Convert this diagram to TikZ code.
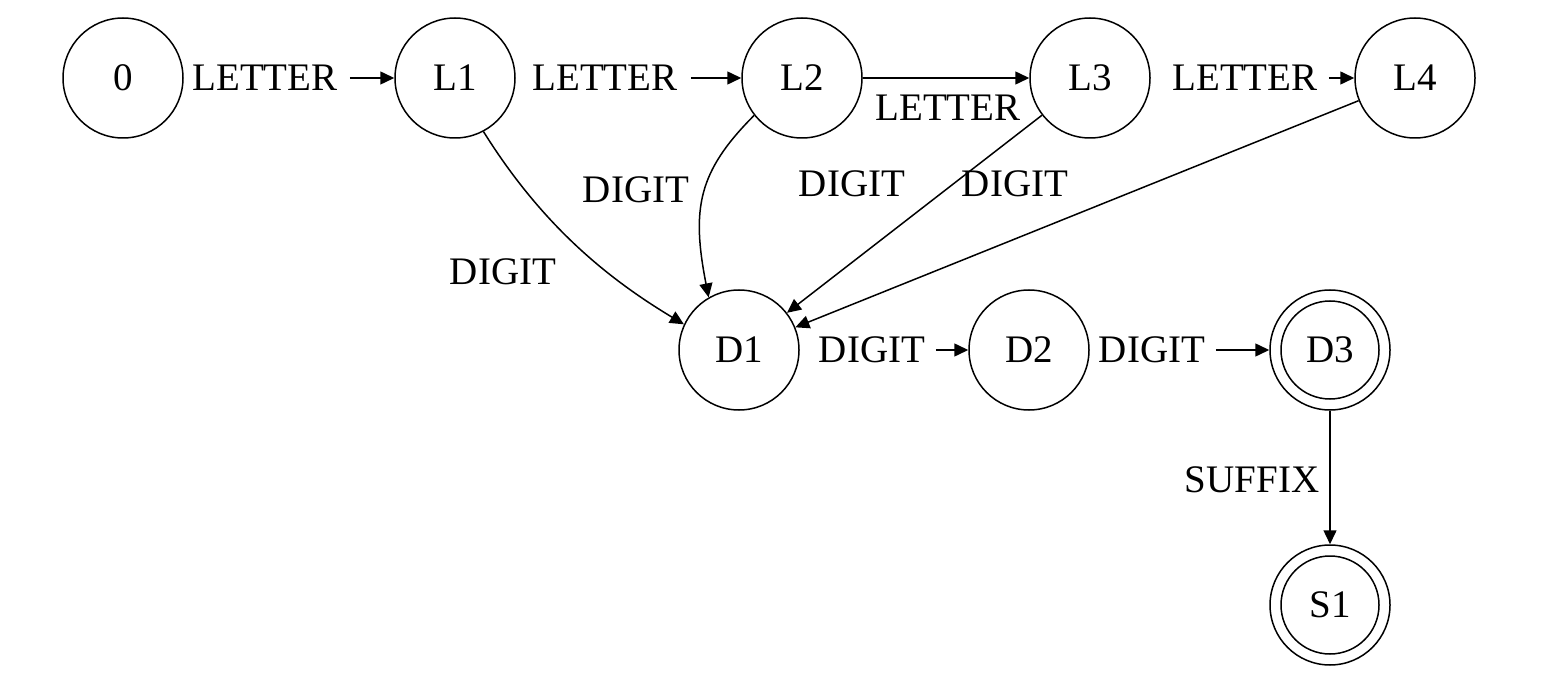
\documentclass[tikz,border=0pt]{standalone}
\usepackage{fontspec}
\setmainfont{Liberation Serif}
\usetikzlibrary{arrows.meta}
\newcommand\lblfont{\fontsize{19.5}{23}\selectfont}
\tikzset{
  state/.style={circle, draw, line width=0.75pt, minimum size=60pt, inner sep=0pt, font=\lblfont},
  accepting/.style={state, path picture={\draw[line width=0.75pt] (path picture bounding box.center) circle (24.5pt);}},
  arr/.style={line width=0.75pt, -{Triangle[length=7pt,width=6.5pt]}},
  lbl/.style={font=\lblfont, inner sep=0pt},
  onlbl/.style={lbl, fill=white, inner xsep=4pt, inner ysep=2pt},
}
\begin{document}
\begin{tikzpicture}[x=0.5pt,y=0.5pt]
\useasboundingbox (0,0) rectangle (1548,-684);
\node[state] (n0) at (123,-78) {0};
\node[state] (L1) at (455,-78) {L1};
\node[state] (L2) at (802,-78) {L2};
\node[state] (L3) at (1090,-78) {L3};
\node[state] (L4) at (1415,-78) {L4};
\node[state] (D1) at (739,-350) {D1};
\node[state] (D2) at (1029,-350) {D2};
\node[accepting] (D3) at (1330,-350) {D3};
\node[accepting] (S1) at (1330,-605) {S1};

\draw[arr, shorten <=83pt] (n0) -- (L1);
\draw[arr, shorten <=87.5pt] (L1) -- (L2);
\draw[arr] (L2) -- (L3);
\draw[arr, shorten <=89pt] (L3) -- (L4);
\draw[arr] (L1.-62) .. controls +(-58:110) and +(149:90) .. (D1.155);
\draw[arr] (L2.-142) .. controls +(-135:80) and +(101:90) .. (D1.120);
\draw[arr] (L3) -- (D1);
\draw[arr] (L4) -- (D1);
\draw[arr, shorten <=68pt] (D1) -- (D2);
\draw[arr, shorten <=63pt] (D2) -- (D3);
\draw[arr] (D3) -- (S1);

\node[onlbl] (t1) at (265,-78) {LETTER};
\node[onlbl] (t2) at (605,-78) {LETTER};
\node[lbl] (t3) at (948,-108) {LETTER};
\node[onlbl] (t4) at (1245,-78) {LETTER};
\node[lbl] (t5) at (503,-272) {DIGIT};
\node[lbl] (t6) at (636,-190) {DIGIT};
\node[lbl] (t7) at (852,-184) {DIGIT};
\node[lbl] (t8) at (1015,-184) {DIGIT};
\node[onlbl] (t9) at (872,-350) {DIGIT};
\node[onlbl] (t10) at (1152,-350) {DIGIT};
\node[lbl] (t11) at (1252,-480) {SUFFIX};
\end{tikzpicture}
\end{document}
